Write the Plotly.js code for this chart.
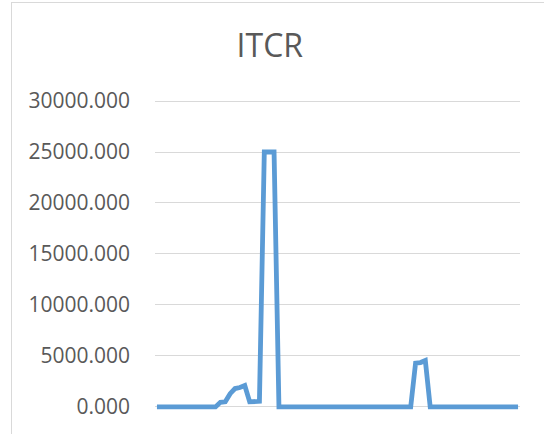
<!DOCTYPE html>
<html>
<head>
<meta charset="utf-8">
<script src="https://cdn.plot.ly/plotly-3.0.1.min.js"></script>
<style>
  html, body { margin: 0; padding: 0; background: #ffffff; overflow: hidden; }
  #frame { position: absolute; left: 11px; top: 2px; width: 700px; height: 600px;
           border-left: 1.5px solid #D9D9D9; border-top: 1.5px solid #D9D9D9; }
  #chart { position: absolute; left: 0; top: 0; width: 544px; height: 434px; }
</style>
</head>
<body>
<div id="frame"></div>
<div id="chart"></div>
<script>
// Series values (75 category points)
const categories = Array.from({length: 75}, (_, i) => i + 1);
const itcrValues = [
  0, 0, 0, 0, 0, 0, 0, 0, 0, 0,
  0, 0, 0, 450, 500, 1300, 1800, 1900, 2100, 500,
  500, 550, 25000, 25000, 25000, 0, 0, 0, 0, 0,
  0, 0, 0, 0, 0, 40, 0, 0, 0, 0,
  0, 60, 0, 0, 0, 0, 0, 40, 0, 0,
  0, 0, 0, 4300, 4350, 4550, 0, 0, 0, 0,
  40, 0, 0, 0, 0, 0, 0, 0, 0, 0,
  50, 0, 0, 0, 0
];
const yTicks = [0, 5000, 10000, 15000, 20000, 25000, 30000];
const chartTitle = 'ITCR';

const fontFamily = "'Open Sans', 'Noto Sans', sans-serif";

const trace = {
  x: categories,
  y: itcrValues,
  type: 'scatter',
  mode: 'lines',
  line: { color: '#5B9BD5', width: 4.8, shape: 'linear' },
  hoverinfo: 'skip'
};

const layout = {
  width: 544,
  height: 434,
  paper_bgcolor: 'rgba(0,0,0,0)',
  plot_bgcolor: 'rgba(0,0,0,0)',
  margin: { l: 155, r: 24, t: 100, b: 23, pad: 0 },
  showlegend: false,
  title: {
    text: chartTitle,
    font: { family: fontFamily, size: 32, color: '#595959' },
    x: 0.496, xref: 'container', xanchor: 'center',
    y: 1 - 46 / 434, yref: 'container', yanchor: 'middle'
  },
  xaxis: {
    range: [0.6, 75.4],
    showgrid: false, zeroline: false, showline: false,
    showticklabels: false, ticks: ''
  },
  yaxis: {
    range: [-400, 30100],
    tickvals: yTicks,
    tickformat: '.3f',
    showgrid: true, gridcolor: '#D9D9D9', gridwidth: 1,
    zeroline: false, showline: false, ticks: '',
    ticklabelstandoff: 24,
    tickfont: { family: fontFamily, size: 21, color: '#595959' }
  }
};

Plotly.newPlot('chart', [trace], layout, { staticPlot: true, displayModeBar: false });
</script>
</body>
</html>
